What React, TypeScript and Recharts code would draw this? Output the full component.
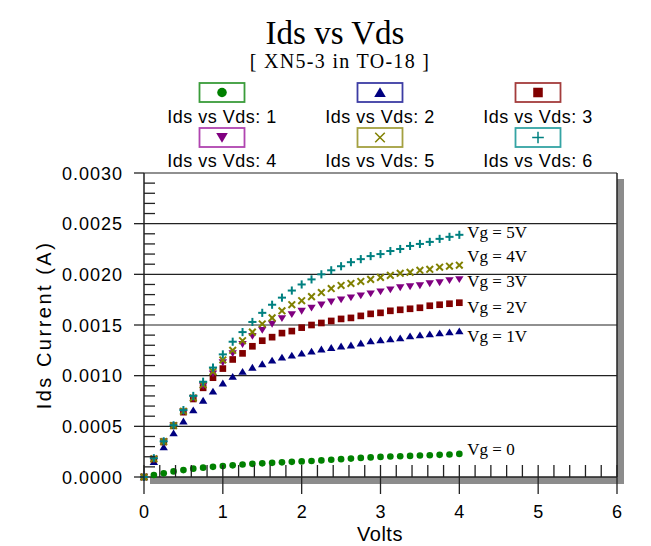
import { ScatterChart, Scatter, XAxis, YAxis, CartesianGrid, ReferenceLine, ReferenceDot } from "recharts"

// drain voltage steps (V)
const VDS = [
  0, 0.125, 0.25, 0.375, 0.5, 0.625, 0.75, 0.875, 1, 1.125, 1.25, 1.375, 1.5, 1.625, 1.75, 1.875, 2,
  2.125, 2.25, 2.375, 2.5, 2.625, 2.75, 2.875, 3, 3.125, 3.25, 3.375, 3.5, 3.625, 3.75, 3.875, 4,
]

// drain current (A) for each gate voltage
const VG0 = [
  0, 0.00002, 0.000036, 0.000055, 0.000068, 0.000082, 0.000092, 0.0001, 0.000108, 0.000115, 0.000123,
  0.00013, 0.000135, 0.00014, 0.000145, 0.00015, 0.000154, 0.000158, 0.000164, 0.00017, 0.000176,
  0.000182, 0.000188, 0.000193, 0.000198, 0.000202, 0.000205, 0.000208, 0.000212, 0.000215, 0.000219,
  0.000222, 0.000228,
]
const VG1 = [
  0, 0.00015, 0.000295, 0.000432, 0.00055, 0.00066, 0.000755, 0.000845, 0.000925, 0.00099, 0.00104,
  0.00108, 0.001115, 0.00115, 0.00118, 0.0012, 0.00122, 0.00124, 0.00126, 0.001275, 0.00129, 0.0013,
  0.00132, 0.00134, 0.00135, 0.00136, 0.00137, 0.00139, 0.0014, 0.00141, 0.00142, 0.00143, 0.00144,
]
const VG2 = [
  0, 0.000175, 0.000345, 0.000505, 0.00064, 0.00077, 0.00088, 0.00098, 0.00107, 0.00116, 0.00122,
  0.00129, 0.001345, 0.00138, 0.00142, 0.00144, 0.001474, 0.0015, 0.00152, 0.00154, 0.00156, 0.00157,
  0.00159, 0.00161, 0.00162, 0.00164, 0.00165, 0.00166, 0.00167, 0.00169, 0.0017, 0.00171, 0.00172,
]
const VG3 = [
  0, 0.000178, 0.000348, 0.000507, 0.000645, 0.00078, 0.0009, 0.00102, 0.00113, 0.00122, 0.00131,
  0.00139, 0.00145, 0.00151, 0.001566, 0.001605, 0.001638, 0.00167, 0.0017, 0.00173, 0.00175, 0.00177,
  0.00179, 0.00181, 0.00183, 0.00185, 0.00187, 0.00188, 0.00189, 0.00191, 0.00192, 0.00194, 0.00195,
]
const VG4 = [
  0, 0.00018, 0.00035, 0.000508, 0.000648, 0.00078, 0.00091, 0.00104, 0.001155, 0.00125, 0.001345,
  0.00143, 0.00151, 0.00157, 0.00164, 0.0017, 0.00174, 0.00178, 0.00182, 0.00186, 0.00189, 0.00191,
  0.00193, 0.00195, 0.00197, 0.00199, 0.00201, 0.00202, 0.00204, 0.00205, 0.00207, 0.00208, 0.00209,
]
const VG5 = [
  0, 0.000185, 0.000352, 0.00051, 0.00066, 0.0008, 0.00094, 0.00108, 0.00121, 0.001335, 0.00143,
  0.00153, 0.00162, 0.0017, 0.00177, 0.00184, 0.0019, 0.00195, 0.002, 0.00204, 0.00208, 0.00212,
  0.00215, 0.00218, 0.0022, 0.00223, 0.00225, 0.00228, 0.0023, 0.00232, 0.00235, 0.00237, 0.00239,
]

const SERIES = [VG0, VG1, VG2, VG3, VG4, VG5]
const SERIES_NAMES = ["Ids vs Vds: 1", "Ids vs Vds: 2", "Ids vs Vds: 3", "Ids vs Vds: 4", "Ids vs Vds: 5", "Ids vs Vds: 6"]
const VG_LABELS = ["Vg = 0", "Vg = 1V", "Vg = 2V", "Vg = 3V", "Vg = 4V", "Vg = 5V"]

const X_TICKS = [0, 1, 2, 3, 4, 5, 6]
const Y_TICKS = [0, 0.0005, 0.001, 0.0015, 0.002, 0.0025, 0.003]
const X_MINOR = Array.from({ length: 31 }, (_, i) => Math.round(i * 2) / 10)
const Y_MINOR = Array.from({ length: 31 }, (_, i) => i / 10000)

const STYLES = [
  { color: "#008000", box: "#3a9c3a", kind: "circle", dy: 1 },
  { color: "#000080", box: "#3c3ca4", kind: "up", dy: 11 },
  { color: "#800000", box: "#a43c3c", kind: "square", dy: 10.5 },
  { color: "#800080", box: "#b044b0", kind: "down", dy: 8 },
  { color: "#808000", box: "#a4a040", kind: "x", dy: -3.5 },
  { color: "#008080", box: "#34a4a4", kind: "plus", dy: 3.5 },
]

const SANS = "'Liberation Sans', Arial, sans-serif"
const SERIF = "'Liberation Serif', 'Times New Roman', serif"

function Marker({ kind, cx, cy, color, h, sw = 2 }: { kind: string; cx: number; cy: number; color: string; h: number; sw?: number }) {
  switch (kind) {
    case "circle":
      return <circle cx={cx} cy={cy} r={h * 0.9} fill={color} />
    case "up":
      return <polygon points={`${cx},${cy - h} ${cx + h + 0.5},${cy + h * 0.85} ${cx - h - 0.5},${cy + h * 0.85}`} fill={color} />
    case "down":
      return <polygon points={`${cx - h - 0.5},${cy - h * 0.85} ${cx + h + 0.5},${cy - h * 0.85} ${cx},${cy + h}`} fill={color} />
    case "square":
      return <rect x={cx - h * 0.9} y={cy - h * 0.9} width={h * 1.8} height={h * 1.8} fill={color} />
    case "x":
      return (
        <g stroke={color} strokeWidth={sw}>
          <line x1={cx - h * 0.9} y1={cy - h * 0.9} x2={cx + h * 0.9} y2={cy + h * 0.9} />
          <line x1={cx - h * 0.9} y1={cy + h * 0.9} x2={cx + h * 0.9} y2={cy - h * 0.9} />
        </g>
      )
    default:
      return (
        <g stroke={color} strokeWidth={sw}>
          <line x1={cx - h * 1.1} y1={cy} x2={cx + h * 1.1} y2={cy} />
          <line x1={cx} y1={cy - h * 1.1} x2={cx} y2={cy + h * 1.1} />
        </g>
      )
  }
}

const isMajor = (v: number, step: number) => Math.abs(v / step - Math.round(v / step)) < 1e-6

function XTick(props: any) {
  const { x, y, payload } = props
  const major = isMajor(payload.value, 1)
  return (
    <g>
      <line x1={x} y1={y - 12} x2={x} y2={major ? y + 17 : y} stroke="#222" strokeWidth={1.3} />
      {major && (
        <text x={x} y={y + 41} textAnchor="middle" fontFamily={SANS} fontSize={18} fill="#000">
          {payload.value}
        </text>
      )}
    </g>
  )
}

function YTick(props: any) {
  const { x, y, payload } = props
  const major = isMajor(payload.value, 0.0005)
  return (
    <g>
      {major ? (
        <>
          <line x1={x - 10} y1={y} x2={x} y2={y} stroke="#222" strokeWidth={1.3} />
          <text x={x - 21} y={y + 6.5} textAnchor="end" fontFamily={SANS} fontSize={18} letterSpacing={1} fill="#000">
            {payload.value.toFixed(4)}
          </text>
        </>
      ) : (
        <line x1={x} y1={y} x2={x + 11} y2={y} stroke="#222" strokeWidth={1.3} />
      )}
    </g>
  )
}

const LEGEND_COLS = [222, 380, 538]

export default function App() {
  return (
    <div style={{ position: "absolute", left: 0, top: 0, width: 651, height: 546, background: "#fff" }}>
      <svg width={651} height={546} style={{ position: "absolute", left: 0, top: 0 }}>
        <rect x={150} y={179} width={474} height={305} fill="#8c8c8c" />
        <text x={335} y={44} textAnchor="middle" fontFamily={SERIF} fontSize={33} fill="#000">
          Ids vs Vds
        </text>
        <text x={340} y={68} textAnchor="middle" fontFamily={SERIF} fontSize={20} letterSpacing={1.3} fill="#000">
          [ XN5-3 in TO-18 ]
        </text>
        {SERIES_NAMES.map((name, i) => {
          const cx = LEGEND_COLS[i % 3]
          const row = Math.floor(i / 3)
          const boxTop = row === 0 ? 83 : 128
          const base = row === 0 ? 123 : 167
          const st = STYLES[i]
          return (
            <g key={name}>
              <rect x={cx - 22.5} y={boxTop} width={45} height={19} fill="#fff" stroke={st.box} strokeWidth={1.8} />
              <Marker kind={st.kind} cx={cx} cy={boxTop + 9.5} color={st.color} h={5.3} sw={1.5} />
              <text x={cx} y={base} textAnchor="middle" fontFamily={SANS} fontSize={18} letterSpacing={0.5} fill="#000">
                {name}
              </text>
            </g>
          )
        })}
        <text
          x={44}
          y={325}
          dy={7}
          transform="rotate(-90 44 325)"
          textAnchor="middle"
          fontFamily={SANS}
          fontSize={20}
          letterSpacing={2.5}
          fill="#000"
        >
          Ids Current (A)
        </text>
        <text x={380} y={541} textAnchor="middle" fontFamily={SANS} fontSize={20} letterSpacing={0.5} fill="#000">
          Volts
        </text>
      </svg>
      <div style={{ position: "absolute", left: 0, top: 0 }}>
        <ScatterChart width={651} height={546} margin={{ top: 173, right: 34, bottom: 0, left: 0 }}>
          <CartesianGrid horizontal={false} vertical={false} fill="#fff" />
          <XAxis
            type="number"
            dataKey="v"
            domain={[0, 6]}
            ticks={X_MINOR}
            interval={0}
            height={69}
            tickSize={0}
            tickMargin={0}
            tickLine={false}
            axisLine={{ stroke: "#222", strokeWidth: 1.5 }}
            tick={XTick}
          />
          <YAxis
            type="number"
            dataKey="i"
            domain={[0, 0.003]}
            ticks={Y_MINOR}
            interval={0}
            width={144}
            tickSize={0}
            tickMargin={0}
            tickLine={false}
            axisLine={{ stroke: "#222", strokeWidth: 1.5 }}
            tick={YTick}
          />
          {Y_TICKS.slice(1).map((t) => (
            <ReferenceLine key={t} y={t} stroke="#222" strokeWidth={1.2} />
          ))}
          <ReferenceLine x={X_TICKS[X_TICKS.length - 1]} stroke="#222" strokeWidth={1.5} />
          {SERIES.map((s, si) => (
            <Scatter
              key={si}
              name={SERIES_NAMES[si]}
              data={VDS.map((v, k) => ({ v, i: s[k] }))}
              isAnimationActive={false}
              shape={(p: any) => <Marker kind={STYLES[si].kind} cx={p.cx} cy={p.cy} color={STYLES[si].color} h={3.7} />}
            />
          ))}
          {SERIES.map((s, si) => (
            <ReferenceDot
              key={`lbl-${si}`}
              x={VDS[VDS.length - 1]}
              y={s[s.length - 1]}
              r={0}
              fill="none"
              stroke="none"
              label={{
                content: ({ viewBox }: any) => (
                  <text
                    x={viewBox.x + 8}
                    y={viewBox.y + STYLES[si].dy}
                    fontFamily={SERIF}
                    fontSize={17}
                    fill="#000"
                  >
                    {VG_LABELS[si]}
                  </text>
                ),
              }}
            />
          ))}
        </ScatterChart>
      </div>
    </div>
  )
}
